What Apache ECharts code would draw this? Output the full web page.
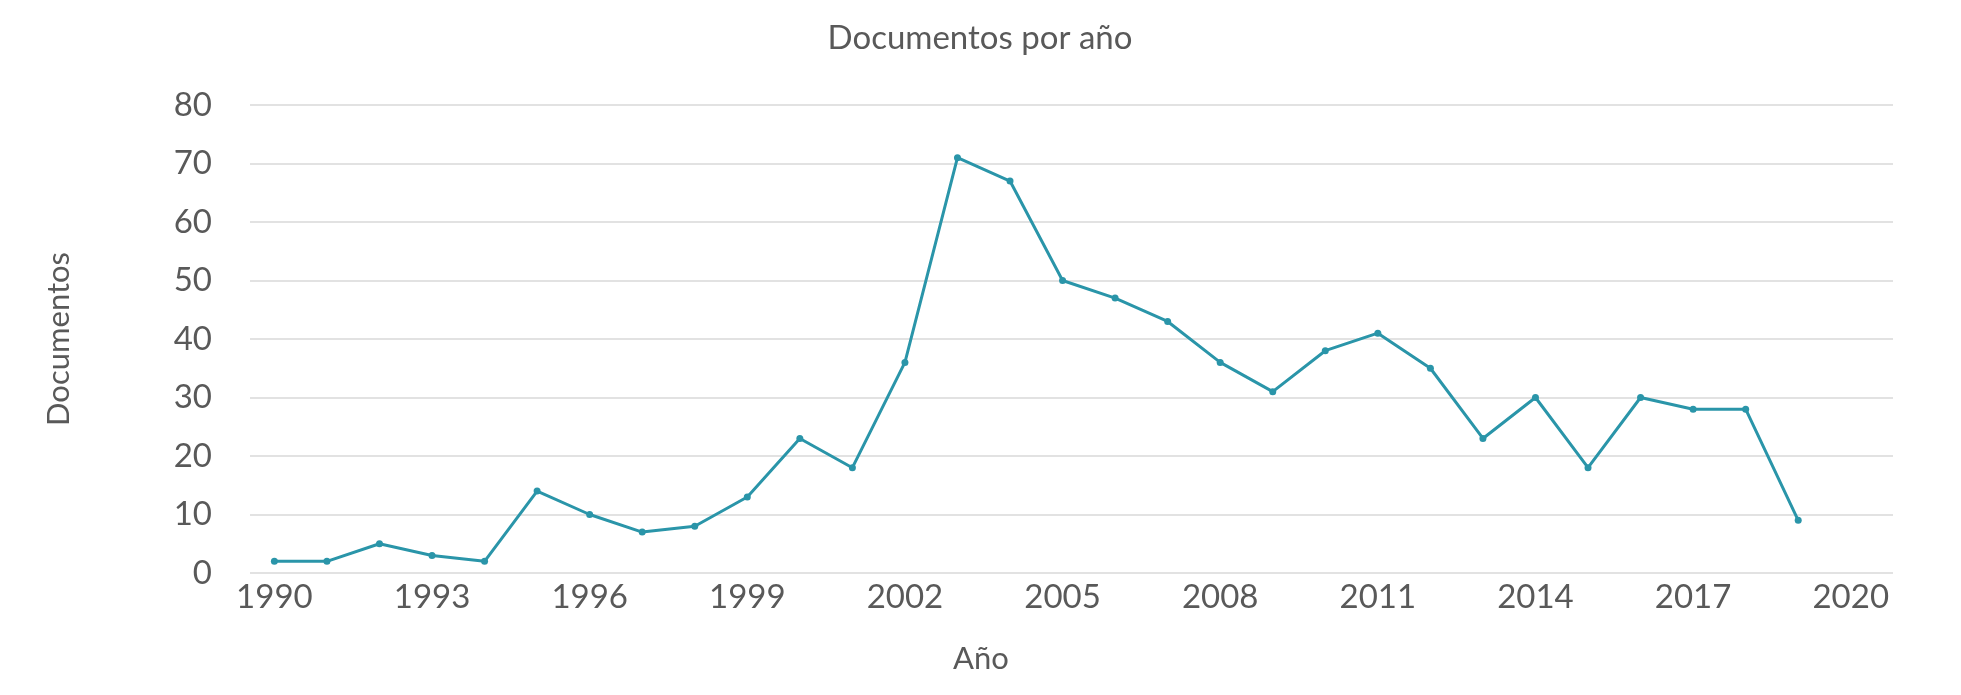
<!DOCTYPE html>
<html>
<head>
<meta charset="utf-8">
<script src="https://cdn.jsdelivr.net/npm/echarts@6/dist/echarts.min.js"></script>
<style>
  html, body { margin: 0; padding: 0; background: #fff; }
  #chart { width: 1961px; height: 695px; }
</style>
</head>
<body>
<div id="chart"></div>
<script>
// Data
const years = [1990, 1991, 1992, 1993, 1994, 1995, 1996, 1997, 1998, 1999,
  2000, 2001, 2002, 2003, 2004, 2005, 2006, 2007, 2008, 2009,
  2010, 2011, 2012, 2013, 2014, 2015, 2016, 2017, 2018, 2019]
const documentos = [2, 2, 5, 3, 2, 14, 10, 7, 8, 13,
  23, 18, 36, 71, 67, 50, 47, 43, 36, 31,
  38, 41, 35, 23, 30, 18, 30, 28, 28, 9]
const yearTicks = [1990, 1993, 1996, 1999, 2002, 2005, 2008, 2011, 2014, 2017, 2020]

const textColor = "#595959"
const fontFamily = "Lato"

const chart = echarts.init(document.getElementById("chart"))

const option = {
  backgroundColor: "#ffffff",
  // chart title and x axis title are centred on the whole chart, not the plot
  title: [
    {
      text: "Documentos por año",
      left: 975,
      top: 17,
      textAlign: "center",
      textStyle: {
        color: textColor,
        fontFamily: fontFamily,
        fontWeight: "normal",
        fontSize: 33,
      },
    },
    {
      text: "Año",
      left: 976,
      top: 638,
      textAlign: "center",
      textStyle: {
        color: textColor,
        fontFamily: fontFamily,
        fontWeight: "normal",
        fontSize: 31,
      },
    },
  ],
  grid: {
    left: 250,
    right: 68,
    top: 105,
    bottom: 122,
  },
  xAxis: {
    type: "value",
    min: 1989.536,
    max: 2020.804,
    axisLine: { show: false },
    axisTick: { show: false },
    splitLine: { show: false },
    axisLabel: {
      customValues: yearTicks,
      color: textColor,
      fontFamily: fontFamily,
      fontSize: 33,
      margin: 8,
      formatter: (v) => String(v),
    },
  },
  yAxis: {
    type: "value",
    min: 0,
    max: 80,
    interval: 10,
    name: "Documentos",
    nameLocation: "middle",
    nameRotate: 90,
    nameGap: 176,
    nameTextStyle: {
      color: textColor,
      fontFamily: fontFamily,
      fontSize: 31,
    },
    axisLine: { show: false },
    axisTick: { show: false },
    axisLabel: {
      color: textColor,
      fontFamily: fontFamily,
      fontSize: 33,
      margin: 38,
    },
    splitLine: {
      lineStyle: {
        color: "#d9d9d9",
        width: 1.5,
      },
    },
  },
  series: [
    {
      name: "Documentos",
      type: "line",
      data: years.map((y, i) => [y, documentos[i]]),
      symbol: "circle",
      symbolSize: 7,
      lineStyle: {
        color: "#2a95a9",
        width: 3,
      },
      itemStyle: {
        color: "#2a95a9",
      },
      animation: false,
    },
  ],
}

chart.setOption(option)
</script>
</body>
</html>
